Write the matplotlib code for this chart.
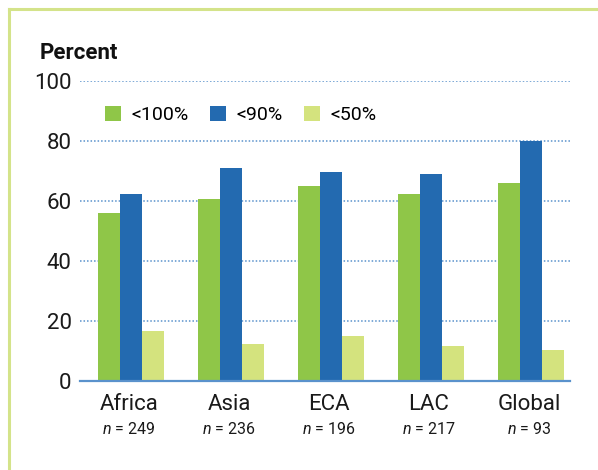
import matplotlib
matplotlib.use("Agg")
import matplotlib.pyplot as plt
from matplotlib.lines import Line2D
import numpy as np

regions = ["Africa", "Asia", "ECA", "LAC", "Global"]
sample_sizes = [249, 236, 196, 217, 93]
series_names = ["<100%", "<90%", "<50%"]
below_100 = [56, 60.6, 65, 62.2, 66]
below_90 = [62.2, 71, 69.6, 69, 80]
below_50 = [16.6, 12.2, 15, 11.6, 10.2]
yticks = [0, 20, 40, 60, 80, 100]

colors = ["#8fc648", "#236ab0", "#d4e37e"]
grid_color = "#5a92cc"
border_color = "#d4e38a"

plt.rcParams["font.family"] = ["Roboto", "DejaVu Sans"]
plt.rcParams["mathtext.fontset"] = "custom"
plt.rcParams["mathtext.it"] = "Roboto:italic"
plt.rcParams["mathtext.rm"] = "Roboto"

fig = plt.figure(figsize=(5.98, 4.70), dpi=100)
ax = fig.add_axes([80 / 598, 1 - 380.7 / 470, 490 / 598, 300 / 470])

x = np.arange(len(regions))
w = 0.22
for i, (vals, name) in enumerate(zip([below_100, below_90, below_50], series_names)):
    ax.bar(x + (i - 1) * w, vals, width=w, color=colors[i], label=name, zorder=3)

ax.set_ylim(0, 100)
ax.set_xlim(-0.51, 4.39)
ax.set_yticks(yticks)
ax.tick_params(axis="y", length=0, pad=6, labelsize=16, labelcolor="#1a1a1a")
ax.set_xticks([])
for s in ["top", "right", "left"]:
    ax.spines[s].set_visible(False)
ax.spines["bottom"].set_color(grid_color)
ax.spines["bottom"].set_linewidth(1.6)
ax.spines["bottom"].set_zorder(4)
for t in yticks[1:]:
    ax.axhline(t, color=grid_color, lw=1.1, ls=(0, (1, 1.3)), zorder=1)

for xi, reg, n in zip(x, regions, sample_sizes):
    ax.text(xi - 0.02, -4.3, reg, ha="center", va="top", fontsize=16, color="#1a1a1a")
    ax.text(xi - 0.02, -13.5, "$n$ = %d" % n, ha="center", va="top", fontsize=11.5, color="#1a1a1a")

ax.legend(loc="center left", bbox_to_anchor=(0.035, 0.886), ncol=3, frameon=False,
          fontsize=14, handlelength=0.85, handleheight=0.85, handletextpad=0.5,
          columnspacing=1.1, borderaxespad=0)

fig.text(40 / 598, 1 - 53 / 470, "Percent", fontsize=16, fontweight="bold", va="center", ha="left", color="#111111")

fig.add_artist(Line2D([9 / 598, 1], [1 - 9 / 470, 1 - 9 / 470], color=border_color, lw=2.2))
fig.add_artist(Line2D([9 / 598, 9 / 598], [0, 1 - 9 / 470], color=border_color, lw=2.2))

fig.savefig("out.png", dpi=100)
